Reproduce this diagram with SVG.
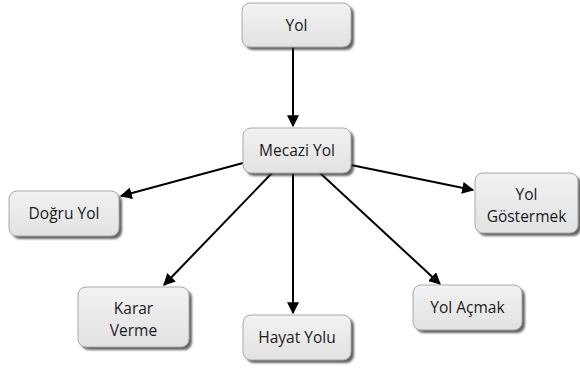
<svg xmlns="http://www.w3.org/2000/svg" width="580" height="369" viewBox="0 0 580 369">
  <style>
    .box { fill: url(#boxFill); stroke: #a8a8a8; stroke-width: 1; }
    .shadow { fill: #333; opacity: 0.75; filter: url(#soft); }
    .label { font-family: "Open Sans", "DejaVu Sans", sans-serif; font-size: 15.5px; fill: #1a1a1a; text-anchor: middle; }
    .edge { stroke: #000; stroke-width: 2; fill: none; marker-end: url(#arrow); }
  </style>
  <defs>
    <linearGradient id="boxFill" x1="0" y1="0" x2="0" y2="1">
      <stop offset="0" stop-color="#f2f2f2"/>
      <stop offset="1" stop-color="#e2e2e2"/>
    </linearGradient>
    <filter id="soft" x="-10%" y="-10%" width="120%" height="130%">
      <feGaussianBlur stdDeviation="1.2"/>
    </filter>
    <marker id="arrow" viewBox="0 0 10 10" refX="9" refY="5" markerWidth="6" markerHeight="6" markerUnits="strokeWidth" orient="auto">
      <path d="M0,0 L10,5 L0,10 z" fill="#000"/>
    </marker>
  </defs>
  <rect width="580" height="369" fill="#fff"/>

  <g id="connectors">
    <line class="edge" x1="293" y1="47" x2="293" y2="126"/>
    <line class="edge" x1="243" y1="163" x2="121" y2="196"/>
    <line class="edge" x1="351" y1="165" x2="473" y2="190"/>
    <line class="edge" x1="272" y1="173" x2="164" y2="285"/>
    <line class="edge" x1="293" y1="173" x2="293" y2="313"/>
    <line class="edge" x1="320" y1="173" x2="440" y2="284"/>
  </g>

  <g id="node-yol">
    <rect class="shadow" x="245" y="6" width="109" height="44" rx="8"/>
    <rect class="box" x="242" y="3" width="109" height="44" rx="8"/>
    <text class="label" x="296.5" y="31">Yol</text>
  </g>
  <g id="node-mecazi">
    <rect class="shadow" x="246" y="131" width="108" height="45" rx="8"/>
    <rect class="box" x="243" y="128" width="108" height="45" rx="8"/>
    <text class="label" x="297" y="156">Mecazi Yol</text>
  </g>
  <g id="node-dogru">
    <rect class="shadow" x="12" y="194" width="110" height="45" rx="8"/>
    <rect class="box" x="9" y="191" width="110" height="45" rx="8"/>
    <text class="label" x="64" y="219">Doğru Yol</text>
  </g>
  <g id="node-gostermek">
    <rect class="shadow" x="478" y="176" width="103" height="60" rx="8"/>
    <rect class="box" x="475" y="173" width="103" height="60" rx="8"/>
    <text class="label" x="526.5" y="200">Yol</text>
    <text class="label" x="526.5" y="222">Göstermek</text>
  </g>
  <g id="node-karar">
    <rect class="shadow" x="81" y="290" width="111" height="60" rx="8"/>
    <rect class="box" x="78" y="287" width="111" height="60" rx="8"/>
    <text class="label" x="133.5" y="314">Karar</text>
    <text class="label" x="133.5" y="336">Verme</text>
  </g>
  <g id="node-hayat">
    <rect class="shadow" x="246" y="318" width="108" height="45" rx="8"/>
    <rect class="box" x="243" y="315" width="108" height="45" rx="8"/>
    <text class="label" x="297" y="343">Hayat Yolu</text>
  </g>
  <g id="node-acmak">
    <rect class="shadow" x="416" y="288" width="109" height="45" rx="8"/>
    <rect class="box" x="413" y="285" width="109" height="45" rx="8"/>
    <text class="label" x="467.5" y="313">Yol Açmak</text>
  </g>
</svg>
